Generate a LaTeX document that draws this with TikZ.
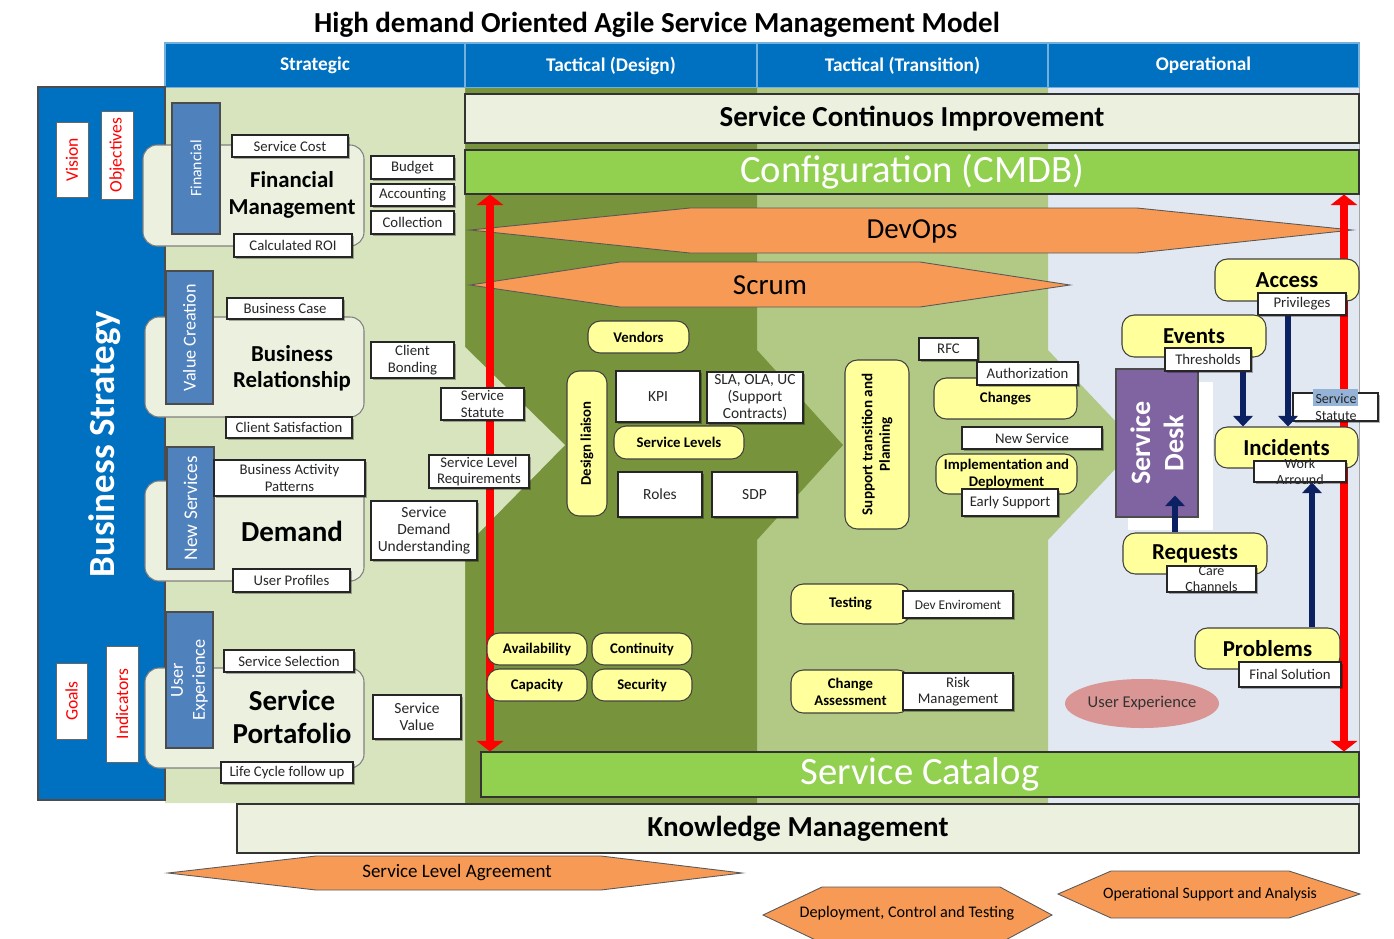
\documentclass[tikz,border=0pt]{standalone}
\usepackage{fontspec}
\setmainfont{Carlito}
\usetikzlibrary{arrows.meta, calc, shadows, shapes.geometric}

\definecolor{hdrblue}{HTML}{0070C0}
\definecolor{grpblue}{HTML}{4F81BD}
\definecolor{stbg}{HTML}{D7E4BD}
\definecolor{dsbg}{HTML}{77933C}
\definecolor{trbg}{HTML}{B2C985}
\definecolor{opbg}{HTML}{E1E8F2}
\definecolor{paleg}{HTML}{EBF1DE}
\definecolor{cmdbg}{HTML}{92D050}
\definecolor{orng}{HTML}{F79A56}
\definecolor{ylwf}{HTML}{FFFF9B}
\definecolor{purp}{HTML}{8064A2}
\definecolor{navy}{HTML}{0B2161}
\definecolor{rose}{HTML}{D99694}
\definecolor{hlblue}{HTML}{95B3D7}

\newcommand{\fsz}[2]{\fontsize{#1}{#2}\selectfont}
% 按左上角与右下角(像素)放置矩形节点
\newcommand{\pbox}[8][]{%
  \node[#2, minimum width={(#5-#3)*0.02cm}, minimum height={(#6-#4)*0.02cm}, #1]
  (#7) at ({(#3+#5)/2}, {(#4+#6)/2}) {#8};
}
% 竖排文字的矩形节点
\newcommand{\pboxv}[8][]{%
  \node[#2, rotate=90, minimum width={(#6-#4)*0.02cm}, minimum height={(#5-#3)*0.02cm}, #1]
  (#7) at ({(#3+#5)/2}, {(#4+#6)/2}) {#8};
}

\begin{document}
\begin{tikzpicture}[
  x=0.02cm, y=-0.02cm,
  hdr/.style={fill=hdrblue, draw=hdrblue!55!white, line width=0.6pt, text=white,
    inner sep=0pt, font=\bfseries\fsz{11}{13}},
  redlbl/.style={fill=white, draw=black!60, text=red, inner sep=0pt, font=\fsz{10}{12}},
  grp/.style={fill=paleg, draw=black!50, rounded corners=8pt, line width=0.6pt},
  gblue/.style={fill=grpblue, draw=black!70, text=white, inner sep=0pt, align=center,
    line width=0.6pt},
  lbl/.style={fill=white, draw=black!85, inner sep=0pt, align=center, text=black!85,
    line width=0.6pt, font=\fsz{8.4}{9.4},
    drop shadow={shadow xshift=1.2pt, shadow yshift=-1.2pt, opacity=0.3, fill=black}},
  lbltxt/.style={inner sep=0pt, align=center, text=black!85, font=\fsz{8}{9.4}},
  ylw/.style={fill=ylwf, draw=black!75, rounded corners=7pt, inner sep=0pt, align=center,
    line width=0.6pt, font=\bfseries\fsz{8.4}{9.6}},
  ylwbig/.style={ylw, font=\bfseries\fsz{13}{15}},
  gtitle/.style={align=center, font=\bfseries\fsz{13}{15}},
  band/.style={fill=paleg, draw=black!80, line width=0.6pt, inner sep=0pt,
    font=\bfseries\fsz{16.5}{18}},
  greenband/.style={fill=cmdbg, draw=black!80, line width=0.6pt, inner sep=0pt,
    text=white, font=\fsz{22}{24}},
  hexa/.style={fill=orng, draw=black!65, line width=0.5pt},
  redarr/.style={draw=red, line width=4.5pt,
    {Triangle[width=15pt,length=6pt]}-{Triangle[width=15pt,length=6pt]}},
  navyarr/.style={draw=navy, line width=3.4pt, -{Triangle[width=11pt,length=6pt]}},
  ]
  \useasboundingbox (0,0) rectangle (1394,938);

  % 标题
  \node[font=\bfseries\fsz{16.5}{18}] (title) at (657,25)
    {High demand Oriented Agile Service Management Model};

  % 表头
  \pbox{hdr}{165}{43}{465}{88}{hs}{Strategic}
  \pbox{hdr}{465}{43}{757}{88}{hd}{Tactical (Design)}
  \pbox{hdr}{757}{43}{1048}{88}{ht}{Tactical (Transition)}
  \pbox{hdr}{1048}{43}{1359}{88}{ho}{Operational}

  % 各列背景(箭头形)
  \fill[opbg] (1048,88) rectangle (1359,803);
  \draw[black!35] (1359,88) -- (1359,803);
  \fill[trbg] (757,88) -- (1048,88) -- (1048,350) -- (1138,445) -- (1048,540)
    -- (1048,803) -- (757,803) -- cycle;
  \fill[dsbg] (465,88) -- (757,88) -- (757,350) -- (843,445) -- (757,540)
    -- (757,803) -- (465,803) -- cycle;
  \fill[stbg] (165,88) -- (465,88) -- (465,347) -- (565,445) -- (465,547)
    -- (465,803) -- (165,803) -- cycle;

  % 左侧业务战略
  \pbox{fill=hdrblue, draw=black!70, line width=0.6pt}{38}{87}{165}{800}{bs}{}
  \node[rotate=90, text=white, font=\bfseries\fsz{21}{24}] (bstxt) at (105,444)
    {Business Strategy};
  \pboxv{redlbl}{56}{122}{88}{197}{vis}{Vision}
  \pboxv{redlbl}{101}{111}{133}{199}{obj}{Objectives}
  \pboxv{redlbl}{56}{663}{87}{739}{goal}{Goals}
  \pboxv{redlbl}{106}{646}{138}{762}{ind}{Indicators}

  % 横条
  \pbox{band}{465}{94}{1359}{143}{impr}{Service Continuos Improvement}
  \pbox{greenband}{465}{150}{1359}{194}{cmdb}{Configuration (CMDB)}
  \pbox{greenband}{481}{752}{1359}{797}{cat}{Service Catalog}
  \pbox{band}{237}{804}{1359}{853}{km}{Knowledge Management}

  % DevOps 与 Scrum
  \draw[hexa] (470,230) -- (690,208) -- (1137,208) -- (1352,230) -- (1137,253)
    -- (690,253) -- cycle;
  \node[font=\fsz{16.5}{18}] (devops) at (912,231) {DevOps};
  \draw[hexa] (470,285) -- (620,262) -- (920,262) -- (1070,285) -- (920,307)
    -- (620,307) -- cycle;
  \node[font=\fsz{16.5}{18}] (scrum) at (770,285) {Scrum};

  % 底部六边形
  \draw[hexa] (168,873) -- (316,856) -- (601,856) -- (742,873) -- (601,890)
    -- (316,890) -- cycle;
  \node[font=\fsz{10.8}{12}] (sla) at (457,873) {Service Level Agreement};
  \draw[hexa] (763,915) -- (822,887) -- (1000,887) -- (1052,915) -- (1000,943)
    -- (822,943) -- cycle;
  \node[font=\fsz{9.2}{11}] (dct) at (907,913) {Deployment, Control and Testing};
  \draw[hexa] (1058,894) -- (1111,871) -- (1289,871) -- (1360,894) -- (1289,918)
    -- (1111,918) -- cycle;
  \node[font=\fsz{9}{11}] (osa) at (1210,894) {Operational Support and Analysis};

  % 红色双向箭头
  \coordinate (rl) at (490,0);
  \coordinate (rr) at (1344,0);
  \draw[redarr] (rl |- cmdb.south) -- (rl |- cat.north);
  \draw[redarr] (rr |- cmdb.south) -- (rr |- cat.north);

  % 战略列: Financial Management
  \pbox{grp}{143}{145}{364}{246}{fmg}{}
  \pboxv{gblue, font=\fsz{9}{11}}{172}{103}{220}{234}{fmb}{Financial}
  \node[gtitle] (fmt) at (292,195) {Financial\\Management};
  \pbox{lbl}{232}{135}{348}{157}{scost}{Service Cost}
  \pbox{lbl}{234}{234}{352}{257}{croi}{Calculated ROI}
  \pbox{lbl}{371}{156}{454}{179}{budg}{Budget}
  \pbox{lbl}{371}{184}{454}{206}{acct}{Accounting}
  \pbox{lbl}{371}{211}{454}{234}{coll}{Collection}

  % Business Relationship
  \pbox{grp}{145}{317}{364}{417}{brg}{}
  \pboxv{gblue, font=\fsz{10.3}{12}}{166}{271}{213}{404}{brb}{Value Creation}
  \node[gtitle] (brt) at (292,368) {Business\\Relationship};
  \pbox{lbl}{227}{298}{343}{319}{bcase}{Business Case}
  \pbox{lbl}{226}{417}{352}{438}{csat}{Client Satisfaction}
  \pbox{lbl}{371}{342}{454}{378}{cbond}{Client\\Bonding}
  \pbox{lbl}{441}{388}{524}{420}{sstat}{Service\\Statute}
  \pbox{lbl}{429}{455}{529}{488}{slr}{Service Level\\Requirements}

  % Demand
  \pbox{grp}{145}{481}{364}{581}{dmg}{}
  \pboxv{gblue, font=\fsz{11}{13}}{167}{447}{214}{569}{dmb}{New Services}
  \node[gtitle, font=\bfseries\fsz{16.5}{18.7}] (dmt) at (292,531) {Demand};
  \pbox{lbl}{214}{460}{365}{496}{bap}{Business Activity\\Patterns}
  \pbox{lbl}{233}{569}{350}{592}{uprof}{User Profiles}
  \pbox{lbl, font=\fsz{8.8}{9.8}}{371}{501}{477}{560}{sdu}{Service\\Demand\\Understanding}

  % Service Portafolio
  \pbox{grp}{145}{668}{364}{768}{spg}{}
  \pboxv{gblue, font=\fsz{10.4}{12.4}}{166}{612}{213}{748}{spb}{User\\Experience}
  \node[gtitle, font=\bfseries\fsz{16.5}{18.7}] (spt) at (292,717) {Service\\Portafolio};
  \pbox{lbl}{224}{650}{354}{672}{ssel}{Service Selection}
  \pbox{lbl}{221}{762}{353}{783}{lcfu}{Life Cycle follow up}
  \pbox{lbl, font=\fsz{8.8}{9.8}}{373}{695}{461}{739}{sval}{Service\\Value}

  % 设计列
  \pbox{ylw}{588}{321}{689}{353}{vend}{Vendors}
  \pboxv{ylw}{567}{371}{607}{516}{dlia}{Design liaison}
  \pbox{lbl, font=\fsz{8.8}{9.8}}{616}{371}{700}{422}{kpi}{KPI}
  \pbox{lbl, font=\fsz{8.8}{9.6}}{707}{372}{803}{423}{slaola}{SLA, OLA, UC\\(Support\\Contracts)}
  \pbox{ylw}{614}{426}{744}{459}{slev}{Service Levels}
  \pbox{lbl, font=\fsz{8.8}{9.8}}{618}{472}{702}{517}{roles}{Roles}
  \pbox{lbl, font=\fsz{8.8}{9.8}}{712}{472}{797}{517}{sdp}{SDP}
  \pbox{ylw}{487}{633}{587}{665}{avail}{Availability}
  \pbox{ylw}{592}{633}{692}{665}{cont}{Continuity}
  \pbox{ylw}{487}{669}{587}{701}{capa}{Capacity}
  \pbox{ylw}{592}{669}{692}{701}{secu}{Security}

  % 转换列
  \pboxv{ylw, font=\bfseries\fsz{8.6}{10}}{845}{360}{909}{529}{stp}{Support transition and\\Planning}
  \pbox{lbl}{919}{338}{978}{360}{rfc}{RFC}
  \pbox{ylw}{934}{378}{1077}{419}{chg}{Changes}
  \pbox{lbl}{977}{362}{1078}{385}{auth}{Authorization}
  \pbox{lbl}{962}{427}{1102}{449}{nsrv}{New Service}
  \pbox{ylw}{936}{454}{1077}{494}{impl}{Implementation and\\Deployment}
  \pbox{lbl}{962}{489}{1058}{516}{esup}{Early Support}
  \pbox{ylw}{791}{584}{910}{624}{test}{Testing}
  \pbox{lbl, font=\fsz{7.6}{9}}{903}{591}{1013}{618}{deve}{Dev Enviroment}
  \pbox{ylw}{791}{670}{910}{713}{chas}{Change\\Assessment}
  \pbox{lbl}{903}{673}{1013}{710}{risk}{Risk\\Management}

  % 运营列
  \fill[white] (1128,382) rectangle (1213,530);
  \pboxv{fill=purp, draw=black!70, line width=0.6pt, text=white, align=center,
    inner sep=0pt, font=\bfseries\fsz{16}{19}}{1116}{369}{1198}{517}{sdesk}{Service\\Desk}
  \pbox{ylwbig}{1215}{259}{1359}{301}{acc}{Access}
  \pbox{lbl}{1258}{293}{1346}{315}{priv}{Privileges}
  \pbox{ylwbig}{1122}{315}{1266}{357}{evt}{Events}
  \pbox{lbl}{1165}{348}{1251}{371}{thr}{Thresholds}
  \pbox{lbl}{1293}{393}{1378}{421}{sstat2}{}
  \fill[hlblue] (1313,389) rectangle (1358,406);
  \node[lbltxt] (sstat2t) at (1336,407) {Service\\Statute};
  \pbox{ylwbig}{1215}{427}{1358}{468}{inc}{Incidents}
  \pbox{lbl}{1254}{461}{1346}{482}{wa}{}
  \node[lbltxt] (watxt) at (wa) {Work\\Arround};
  \pbox{ylwbig}{1123}{533}{1267}{574}{req}{Requests}
  \pbox{lbl}{1167}{566}{1256}{592}{care}{}
  \node[lbltxt] (caretxt) at (care) {Care\\Channels};
  \pbox{ylwbig}{1195}{628}{1340}{669}{prob}{Problems}
  \pbox{lbl}{1239}{662}{1341}{687}{fsol}{Final Solution}
  \pbox{ellipse, fill=rose, inner sep=0pt, text=black!80, font=\fsz{9.4}{11}}{1065}{679}{1219}{728}{uexp}{User Experience}

  % 深蓝箭头
  \coordinate (nx1) at (1243,0);
  \coordinate (nx2) at (1288,0);
  \coordinate (nx3) at (1175,0);
  \coordinate (nx4) at (1312,0);
  \draw[navyarr] (nx1 |- thr.south) -- (nx1 |- inc.north);
  \draw[navyarr] (nx2 |- priv.south) -- (nx2 |- inc.north);
  \draw[navyarr] (nx3 |- req.north) -- ($(nx3 |- sdesk.west)+(0,-22)$);
  \draw[navyarr] (nx4 |- prob.north) -- (nx4 |- wa.south);
\end{tikzpicture}
\end{document}
